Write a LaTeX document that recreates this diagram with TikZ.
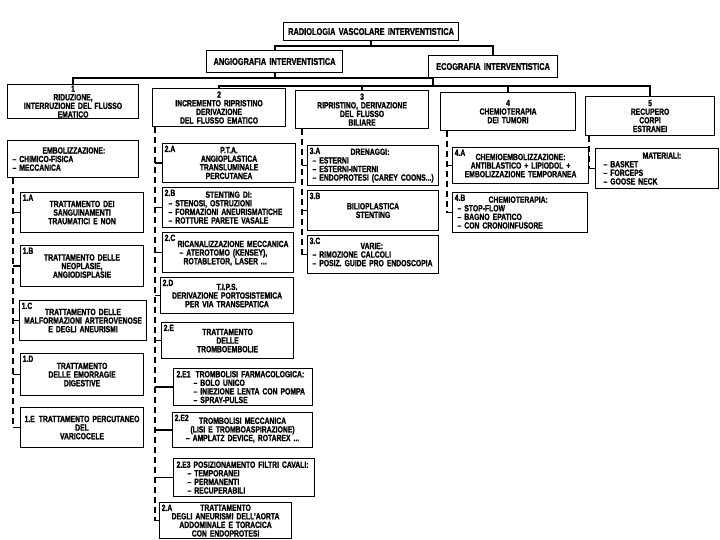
\documentclass[tikz,border=0pt]{standalone}
\usepackage{fontspec}
\setmainfont{Liberation Sans}[FakeStretch=0.755,BoldFeatures={FakeBold=1.2}]
\newcommand\fs{\fontsize{9}{8.6}\selectfont\bfseries\parindent=0pt}
\newcommand\ftop{\fontsize{9.8}{10}\selectfont\bfseries\parindent=0pt}
\begin{document}
\begin{tikzpicture}[x=1pt,y=-1pt,
  bx/.code 2 args={\pgfmathsetmacro\bxw{#1-6}\edef\bxtmp{\noexpand\pgfkeysalso{text width=\bxw pt,minimum height=#2pt}}\bxtmp},
  box/.style={draw, line width=1.1pt, anchor=north west, inner xsep=3pt, inner ysep=1pt, font=\fs, align=center},
  lb/.style={anchor=north west, inner sep=2.5pt, font=\fs},
  bus/.style={line width=2pt, line cap=rect},
  dsh/.style={line width=1.8pt, dash pattern=on 6pt off 4pt},
  tk/.style={line width=1.8pt}]
\fill[white] (0,0) rectangle (720,540);
\useasboundingbox (0,0) rectangle (720,540);

% top levels
\node[box,bx={175}{18},font=\ftop] (R) at (283,22) {RADIOLOGIA VASCOLARE INTERVENTISTICA};
\node[box,bx={136}{22},font=\ftop] (A) at (206,50) {ANGIOGRAFIA INTERVENTISTICA};
\node[box,bx={129}{22},font=\ftop] (E) at (428,55) {ECOGRAFIA INTERVENTISTICA};

\node[box,bx={131}{34}] (L1) at (7,84) {1\\RIDUZIONE,\\INTERRUZIONE DEL FLUSSO\\EMATICO};
\node[box,bx={133}{38}] (L2) at (152,88) {2\\INCREMENTO RIPRISTINO\\DERIVAZIONE\\DEL FLUSSO EMATICO};
\node[box,bx={133}{38}] (L3) at (295,90) {3\\RIPRISTINO, DERIVAZIONE\\DEL FLUSSO\\BILIARE};
\node[box,bx={135}{38}] (L4) at (440,92) {4\\CHEMIOTERAPIA\\DEI TUMORI};
\node[box,bx={129}{39}] (L5) at (585,96) {5\\RECUPERO\\CORPI\\ESTRANEI};

% column 1
\node[box,bx={131}{37},align=left] (emb) at (7,140) {\hspace*{32pt}EMBOLIZZAZIONE:\\\hspace*{2pt}– CHIMICO-FISICA\\\hspace*{2pt}– MECCANICA};
\node[box,bx={123}{40},label={[lb]north west:1.A}] (n1a) at (20,192) {TRATTAMENTO DEI\\SANGUINAMENTI\\TRAUMATICI E NON};
\node[box,bx={123}{41},label={[lb]north west:1.B}] (n1b) at (20,245) {TRATTAMENTO DELLE\\NEOPLASIE,\\ANGIODISPLASIE};
\node[box,bx={127}{40},label={[lb]north west:1.C}] (n1c) at (19,300) {TRATTAMENTO DELLE\\MALFORMAZIONI ARTEROVENOSE\\E DEGLI ANEURISMI};
\node[box,bx={123}{42},label={[lb]north west:1.D}] (n1d) at (20,353) {TRATTAMENTO\\DELLE EMORRAGIE\\DIGESTIVE};
\node[box,bx={123}{40}] (n1e) at (20,407) {1.E\hspace{4pt}TRATTAMENTO PERCUTANEO\\DEL\\VARICOCELE};

% column 2
\node[box,bx={133}{39},label={[lb]north west:2.A}] (n2a) at (162,143) {P.T.A.\\ANGIOPLASTICA\\TRANSLUMINALE\\PERCUTANEA};
\node[box,bx={131}{40},align=left,label={[lb]north west:2.B}] (n2b) at (162,187) {\hspace*{40pt}STENTING DI:\\\hspace*{3pt}– STENOSI, OSTRUZIONI\\\hspace*{3pt}– FORMAZIONI ANEURISMATICHE\\\hspace*{3pt}– ROTTURE PARETE VASALE};
\node[box,bx={131}{40},align=left,label={[lb]north west:2.C}] (n2c) at (162,232) {\mbox{}\\[-1pt]\hspace*{12pt}RICANALIZZAZIONE MECCANICA\\\hspace*{14pt}– ATEROTOMO (KENSEY),\\\hspace*{18pt}ROTABLETOR, LASER ...};
\node[box,bx={133}{36},label={[lb]north west:2.D}] (n2d) at (160,277) {T.I.P.S.\\DERIVAZIONE PORTOSISTEMICA\\PER VIA TRANSEPATICA};
\node[box,bx={132}{36},label={[lb]north west:2.E}] (n2e) at (161,322) {TRATTAMENTO\\DELLE\\TROMBOEMBOLIE};
\node[box,bx={139}{37},align=left] (n2ea) at (173,368) {2.E1\hspace{5pt}TROMBOLISI FARMACOLOGICA:\\\hspace*{17pt}– BOLO UNICO\\\hspace*{17pt}– INIEZIONE LENTA CON POMPA\\\hspace*{17pt}– SPRAY-PULSE};
\node[box,bx={140}{35},label={[lb]north west:2.E2}] (n2eb) at (172,412) {TROMBOLISI MECCANICA\\(LISI E TROMBOASPIRAZIONE)\\– AMPLATZ DEVICE, ROTAREX ...};
\node[box,bx={141}{38},align=left] (n2ec) at (173,458) {2.E3 POSIZIONAMENTO FILTRI CAVALI:\\\hspace*{11pt}– TEMPORANEI\\\hspace*{11pt}– PERMANENTI\\\hspace*{11pt}– RECUPERABILI};
\node[box,bx={132}{36},label={[lb]north west:2.A}] (n2f) at (159,502) {TRATTAMENTO\\DEGLI ANEURISMI DELL'AORTA\\ADDOMINALE E TORACICA\\CON ENDOPROTESI};

% column 3
\node[box,bx={131}{40},align=left,label={[lb]north west:3.A}] (n3a) at (307,145) {\hspace*{40pt}DRENAGGI:\\\hspace*{2pt}– ESTERNI\\\hspace*{2pt}– ESTERNI-INTERNI\\\hspace*{2pt}– ENDOPROTESI (CAREY COONS...)};
\node[box,bx={131}{40},label={[lb]north west:3.B}] (n3b) at (307,190) {BILIOPLASTICA\\STENTING};
\node[box,bx={131}{38},align=left,label={[lb]north west:3.C}] (n3c) at (307,235) {\hspace*{50pt}VARIE:\\\hspace*{2pt}– RIMOZIONE CALCOLI\\\hspace*{2pt}– POSIZ. GUIDE PRO ENDOSCOPIA};

% column 4
\node[box,bx={136}{36},label={[lb]north west:4.A}] (n4a) at (452,147) {CHEMIOEMBOLIZZAZIONE:\\ANTIBLASTICO + LIPIODOL +\\EMBOLIZZAZIONE TEMPORANEA};
\node[box,bx={135}{40},align=left,label={[lb]north west:4.B}] (n4b) at (452,192) {\hspace*{33pt}CHEMIOTERAPIA:\\\hspace*{2pt}– STOP-FLOW\\\hspace*{2pt}– BAGNO EPATICO\\\hspace*{2pt}– CON CRONOINFUSORE};

% column 5
\node[box,bx={123}{40},align=left] (n5m) at (595,148) {\hspace*{44pt}MATERIALI:\\\hspace*{5pt}– BASKET\\\hspace*{5pt}– FORCEPS\\\hspace*{5pt}– GOOSE NECK};

% buses
\coordinate (h1) at (0,46);
\coordinate (h2) at (0,78);
\coordinate (h3) at (0,86);
\coordinate (j) at (433,78);
\draw[bus] (R.south) -- (R.south |- h1);
\draw[bus] (A.north) -- (A.north |- h1) -- (E.north |- h1) -- (E.north);
\draw[bus] (A.south) -- (A.south |- h2);
\draw[bus] (L1.north) -- (L1.north |- h2) -- (j) -- (j |- h3);
\draw[bus] (L2.north) -- (L2.north |- h3) -- (L5.north |- h3) -- (L5.north);
\draw[bus] (L3.north |- h3) -- (L3.north);
\draw[bus] (L4.north |- h3) -- (L4.north);

% dashed columns
\coordinate (c1) at (13,0);
\coordinate (c2) at (155,0);
\coordinate (c3) at (302,0);
\coordinate (c4) at (447,0);
\coordinate (c5) at (589,0);
\draw[dsh] (emb.south -| c1) -- (n1e.west -| c1);
\foreach \n in {n1a,n1b,n1c,n1d,n1e} \draw[tk] (\n.west -| c1) -- (\n.west);
\draw[dsh] (L2.south -| c2) -- (n2f.west -| c2);
\foreach \n in {n2a,n2b,n2c,n2d,n2e,n2ea,n2eb,n2ec,n2f} \draw[tk] (\n.west -| c2) -- (\n.west);
\draw[dsh] (L3.south -| c3) -- (n3c.west -| c3);
\foreach \n in {n3a,n3b,n3c} \draw[tk] (\n.west -| c3) -- (\n.west);
\draw[dsh] (L4.south -| c4) -- (n4b.west -| c4);
\foreach \n in {n4a,n4b} \draw[tk] (\n.west -| c4) -- (\n.west);
\draw[dsh] (L5.south -| c5) -- (n5m.west -| c5);
\draw[tk] (n5m.west -| c5) -- (n5m.west);
\end{tikzpicture}
\end{document}
